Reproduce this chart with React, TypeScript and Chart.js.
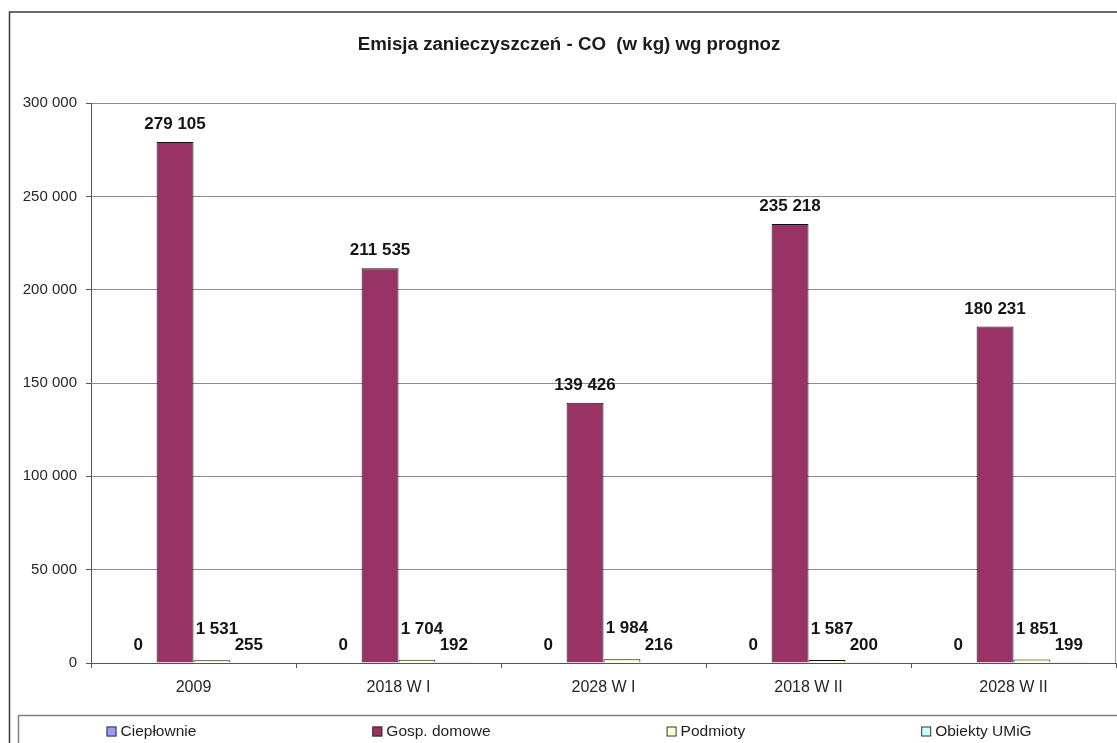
import React, { useEffect, useRef } from "react";
import { Chart, registerables } from "chart.js";

Chart.register(...registerables);

const titleText = "Emisja zanieczyszczeń - CO  (w kg) wg prognoz";
const categories = ["2009", "2018 W I", "2028 W I", "2018 W II", "2028 W II"];
const seriesNames = ["Ciepłownie", "Gosp. domowe", "Podmioty", "Obiekty UMiG"];
const cieplownie = [0, 0, 0, 0, 0];
const gospDomowe = [279105, 211535, 139426, 235218, 180231];
const podmioty = [1531, 1704, 1984, 1587, 1851];
const obiektyUMiG = [255, 192, 216, 200, 199];
const yTickValues = [0, 50000, 100000, 150000, 200000, 250000, 300000];
const seriesColors = ["#9999FF", "#993366", "#FFFFCC", "#CCFFFF"];

const FONT = '"Liberation Sans", Arial, Helvetica, sans-serif';

const fmt = (v: number) =>
  String(Math.round(v)).replace(/\B(?=(\d{3})+(?!\d))/g, " ");

const framePlugin = {
  id: "frameAndLegend",
  beforeDraw(chart: any) {
    const ctx = chart.ctx;
    ctx.save();
    ctx.fillStyle = "#ffffff";
    ctx.fillRect(0, 0, chart.width, chart.height);
    ctx.restore();
  },
  afterDraw(chart: any) {
    const ctx = chart.ctx;
    const area = chart.chartArea;
    ctx.save();
    // outer frame (cut off right and bottom)
    ctx.strokeStyle = "#3a3a3a";
    ctx.lineWidth = 1.5;
    ctx.strokeRect(9.5, 12, chart.width + 20, chart.height + 20);
    // plot area right border
    ctx.strokeStyle = "#9a9a9a";
    ctx.lineWidth = 1;
    ctx.beginPath();
    ctx.moveTo(Math.round(area.right) - 0.5, area.top);
    ctx.lineTo(Math.round(area.right) - 0.5, area.bottom);
    ctx.stroke();
    // legend box
    ctx.strokeStyle = "#808080";
    ctx.lineWidth = 1.5;
    ctx.strokeRect(18.5, 715.5, chart.width + 20, 60);
    // legend entries
    ctx.font = "15.5px " + FONT;
    ctx.textBaseline = "middle";
    ctx.textAlign = "left";
    let x = 106.5;
    const cy = 731.5;
    chart.data.datasets.forEach((ds: any) => {
      ctx.fillStyle = ds.backgroundColor;
      ctx.fillRect(x, cy - 5, 10, 10);
      ctx.strokeStyle = "#333333";
      ctx.lineWidth = 1;
      ctx.strokeRect(x + 0.5, cy - 4.5, 9, 9);
      ctx.fillStyle = "#1f1f1f";
      ctx.fillText(ds.label, x + 14, cy);
      x += 14 + ctx.measureText(ds.label).width + 176;
    });
    ctx.restore();
  },
};

const valueLabelPlugin = {
  id: "valueLabels",
  afterDatasetsDraw(chart: any) {
    const ctx = chart.ctx;
    ctx.save();
    ctx.font = "bold 17px " + FONT;
    ctx.fillStyle = "#141414";
    ctx.textAlign = "center";
    ctx.textBaseline = "alphabetic";
    chart.data.datasets.forEach((ds: any, di: number) => {
      const meta = chart.getDatasetMeta(di);
      meta.data.forEach((el: any, i: number) => {
        const v = ds.data[i];
        const lift = di === 2 ? 26 : 13;
        const dx = di === 2 ? 5 : 0;
        ctx.fillText(fmt(v), el.x + dx, el.y - lift);
      });
    });
    ctx.restore();
  },
};

export default function App() {
  const ref = useRef<HTMLCanvasElement>(null);

  useEffect(() => {
    if (!ref.current) return;
    const seriesValues = [cieplownie, gospDomowe, podmioty, obiektyUMiG];
    const chart = new Chart(ref.current, {
      type: "bar",
      data: {
        labels: categories,
        datasets: seriesNames.map((name, i) => ({
          label: name,
          data: seriesValues[i],
          backgroundColor: seriesColors[i],
          borderColor: "#111111",
          borderWidth: 1,
          categoryPercentage: 0.72,
          barPercentage: 1,
        })),
      },
      options: {
        responsive: false,
        animation: false,
        devicePixelRatio: 1,
        layout: { padding: { left: 22, top: 0, right: 1, bottom: 40 } },
        plugins: {
          legend: { display: false },
          tooltip: { enabled: false },
          title: {
            display: true,
            text: titleText,
            color: "#1a1a1a",
            font: { family: FONT, size: 18.7, weight: "bold", lineHeight: 1.2 },
            padding: { top: 33.8, bottom: 46.8 },
          },
        },
        scales: {
          x: {
            grid: {
              display: true,
              drawOnChartArea: false,
              drawTicks: true,
              tickLength: 5,
              tickColor: "#555555",
              offset: true,
            },
            border: { color: "#555555", width: 1 },
            ticks: {
              color: "#262626",
              font: { family: FONT, size: 16 },
              padding: 10.4,
              maxRotation: 0,
            },
            afterFit: (scale: any) => {
              scale.height = 40;
            },
          },
          y: {
            min: 0,
            max: 300000,
            grid: {
              color: "#8c8c8c",
              lineWidth: 1,
              drawTicks: true,
              tickLength: 5,
              tickColor: "#555555",
            },
            border: { color: "#555555", width: 1 },
            ticks: {
              color: "#262626",
              font: { family: FONT, size: 15 },
              padding: 9,
              callback: (v: any) => fmt(Number(v)),
            },
            afterBuildTicks: (scale: any) => {
              scale.ticks = yTickValues.map((v) => ({ value: v }));
            },
            afterFit: (scale: any) => {
              scale.width = 69;
            },
          },
        },
      },
      plugins: [framePlugin, valueLabelPlugin],
    } as any);
    return () => chart.destroy();
  }, []);

  return (
    <div
      style={{
        position: "fixed",
        left: 0,
        top: 0,
        width: 1117,
        height: 743,
        background: "#ffffff",
      }}
    >
      <canvas
        ref={ref}
        width={1117}
        height={743}
        style={{ display: "block", width: 1117, height: 743 }}
      />
    </div>
  );
}
